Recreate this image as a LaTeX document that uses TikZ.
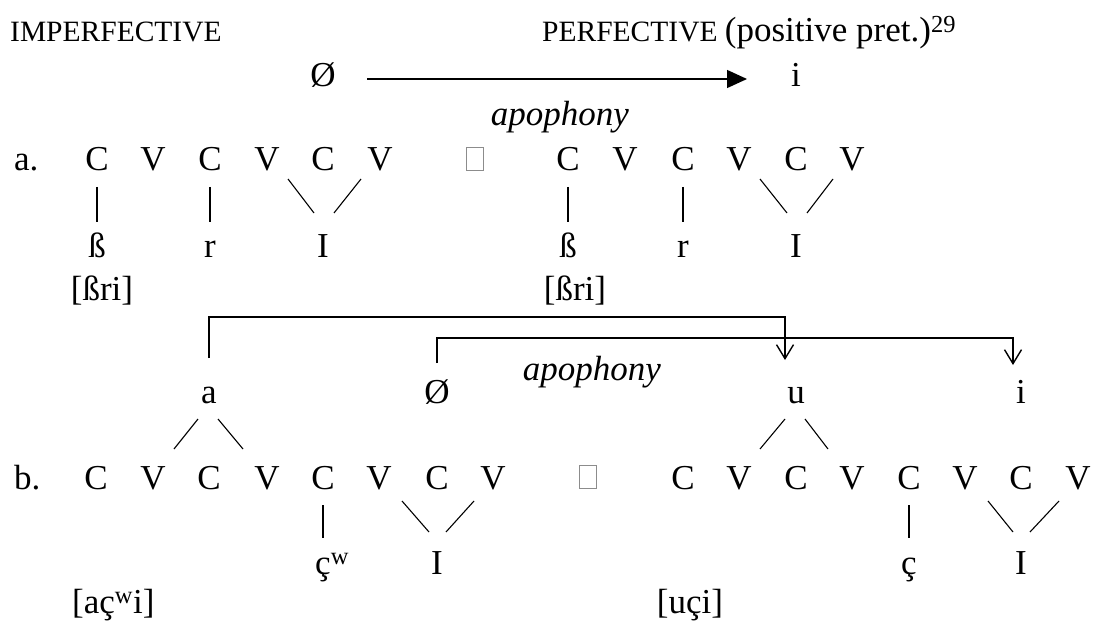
\documentclass[tikz,border=0pt]{standalone}
\usepackage{fontspec}
\setmainfont{Liberation Serif}
\usetikzlibrary{arrows.meta}
\begin{document}
\begin{tikzpicture}[x=1pt,y=-1pt,
  txt/.style={font=\fontsize{35}{40}\selectfont, inner sep=0pt, anchor=base},
  itx/.style={font=\fontsize{35}{40}\selectfont\itshape, inner sep=0pt, anchor=base},
  sc/.style={font=\fontsize{29.5}{32}\selectfont, inner sep=0pt, anchor=base west},
  tree/.style={line width=1.1pt},
  brk/.style={line width=1.6pt, -{Straight Barb[length=14pt,width=17pt,line width=1.4pt]}},
  tofu/.style={draw=black!45, line width=0.8pt, minimum width=17pt, minimum height=23pt, inner sep=0pt, anchor=south}]
\useasboundingbox (0,0) rectangle (1093,623);

% header
\node[sc] (imp) at (10,42) {IMPERFECTIVE};
\node[sc] (perf) at (542,42) {PERFECTIVE {\fontsize{35}{40}\selectfont(positive pret.)\textsuperscript{29}}};

% top arrow
\node[txt] (z0) at (323,87) {Ø};
\node[txt] (i0) at (796,87) {i};
\draw[line width=1.4pt,-{Triangle[length=20pt,width=18pt]}] ([shift={(44pt,8pt)}]z0.base) -- ([shift={(-49pt,8pt)}]i0.base);
\node[itx] (ap1) at (560,126) {apophony};

% row a
\node[txt,anchor=base west] (alab) at (14,171) {a.};
\foreach \n/\x/\t in {1/97/C,2/153/V,3/210/C,4/267/V,5/323/C,6/380/V}
  \node[txt] (aL\n) at (\x,171) {\t};
\foreach \n/\x/\t in {1/568/C,2/625/V,3/683/C,4/739/V,5/796/C,6/852/V}
  \node[txt] (aR\n) at (\x,171) {\t};
\node[tofu] (sqA) at (475,171) {};

\node[txt] (aLb) at (97,257) {ß};
\node[txt] (aLr) at (210,257) {r};
\node[txt] (aLI) at (323,257) {I};
\node[txt] (aRb) at (568,257) {ß};
\node[txt] (aRr) at (683,257) {r};
\node[txt] (aRI) at (796,257) {I};

\draw[tree] ([yshift=-16pt]aL1.base) -- ([yshift=35pt]aLb.base);
\draw[tree] ([yshift=-16pt]aL3.base) -- ([yshift=35pt]aLr.base);
\draw[tree] ([shift={(21pt,-8pt)}]aL4.base) -- ([shift={(-9pt,44pt)}]aLI.base);
\draw[tree] ([shift={(-19pt,-8pt)}]aL6.base) -- ([shift={(11pt,44pt)}]aLI.base);
\draw[tree] ([yshift=-16pt]aR1.base) -- ([yshift=35pt]aRb.base);
\draw[tree] ([yshift=-16pt]aR3.base) -- ([yshift=35pt]aRr.base);
\draw[tree] ([shift={(21pt,-8pt)}]aR4.base) -- ([shift={(-9pt,44pt)}]aRI.base);
\draw[tree] ([shift={(-19pt,-8pt)}]aR6.base) -- ([shift={(11pt,44pt)}]aRI.base);

\node[txt] (aLs) at (102,300) {[ßri]};
\node[txt] (aRs) at (575,300) {[ßri]};

% row b melody
\node[txt] (bA) at (209,403) {a};
\node[txt] (bZ) at (437,403) {Ø};
\node[txt] (bU) at (796,403) {u};
\node[txt] (bI) at (1021,403) {i};
\node[itx] (ap2) at (592,380) {apophony};

\draw[brk] ([yshift=45pt]bA.base) -- ++(0,41pt) -| ([shift={(-11pt,43pt)}]bU.base);
\draw[brk] ([yshift=40pt]bZ.base) -- ++(0,25pt) -| ([shift={(-8pt,38pt)}]bI.base);

% row b
\node[txt,anchor=base west] (blab) at (14,489) {b.};
\foreach \n/\x/\t in {1/96/C,2/153/V,3/209/C,4/267/V,5/323/C,6/379/V,7/437/C,8/493/V}
  \node[txt] (bL\n) at (\x,489) {\t};
\foreach \n/\x/\t in {1/683/C,2/739/V,3/796/C,4/852/V,5/909/C,6/965/V,7/1021/C,8/1078/V}
  \node[txt] (bR\n) at (\x,489) {\t};
\node[tofu] (sqB) at (588,489) {};

\draw[tree] ([shift={(-11pt,-16pt)}]bA.base) -- ([shift={(21pt,40pt)}]bL2.base);
\draw[tree] ([shift={(9pt,-16pt)}]bA.base) -- ([shift={(-24pt,40pt)}]bL4.base);
\draw[tree] ([shift={(-11pt,-16pt)}]bU.base) -- ([shift={(21pt,40pt)}]bR2.base);
\draw[tree] ([shift={(9pt,-16pt)}]bU.base) -- ([shift={(-24pt,40pt)}]bR4.base);

\node[txt] (bLc) at (323,574) {ç\rlap{\textsuperscript{w}}};
\node[txt] (bLI) at (437,574) {I};
\node[txt] (bRc) at (909,574) {ç};
\node[txt] (bRI) at (1021,574) {I};

\draw[tree] ([yshift=-16pt]bL5.base) -- ([yshift=36pt]bLc.base);
\draw[tree] ([shift={(23pt,-12pt)}]bL6.base) -- ([shift={(-8pt,42pt)}]bLI.base);
\draw[tree] ([shift={(-19pt,-12pt)}]bL8.base) -- ([shift={(9pt,42pt)}]bLI.base);
\draw[tree] ([yshift=-16pt]bR5.base) -- ([yshift=36pt]bRc.base);
\draw[tree] ([shift={(23pt,-12pt)}]bR6.base) -- ([shift={(-8pt,42pt)}]bRI.base);
\draw[tree] ([shift={(-19pt,-12pt)}]bR8.base) -- ([shift={(9pt,42pt)}]bRI.base);

\node[txt,anchor=base west] (bLs) at (72,613) {[aç\textsuperscript{w}i]};
\node[txt] (bRs) at (690,613) {[uçi]};
\end{tikzpicture}
\end{document}
